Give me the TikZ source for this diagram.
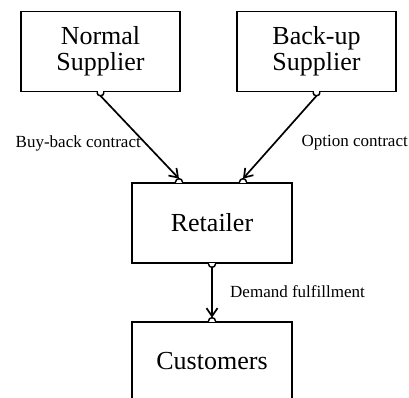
\documentclass[tikz,border=0pt]{standalone}
\usepackage{fontspec}
\setmainfont{Liberation Serif}
\usetikzlibrary{arrows.meta}

\tikzset{
    party/.style={draw, line width=1.7pt, minimum width=159pt, minimum height=80pt,
        align=center, inner sep=0pt, font=\fontsize{26}{26}\selectfont},
    flow/.style={line width=1.7pt, -{Straight Barb[length=8pt,width=11pt,line width=1.7pt]}},
    tag/.style={font=\fontsize{17}{20}\selectfont, inner sep=0pt}
}
% small connection bumps on the box edges
\def\portdown#1{%
    \draw [white, line width=2.4pt] ([xshift=-2.6pt]#1) -- ([xshift=2.6pt]#1);
    \draw [line width=1.5pt] ([xshift=-3.5pt]#1) arc [start angle=180, end angle=360, radius=3.5pt];
}
\def\portup#1{%
    \draw [white, line width=2.4pt] ([xshift=-2.6pt]#1) -- ([xshift=2.6pt]#1);
    \draw [line width=1.5pt] ([xshift=-3.5pt]#1) arc [start angle=180, end angle=0, radius=3.5pt];
}

\begin{document}
\begin{tikzpicture}[x=1pt, y=1pt]
\useasboundingbox (0,0) rectangle (409,397);
\node [party] (normal) at (100.5,345.5) {Normal\\Supplier};
\node [party] (backup) at (316.5,345.5) {Back-up\\Supplier};
\node [party, minimum width=160pt] (retailer) at (212,174) {Retailer};
\node [party, minimum width=160pt, minimum height=78pt] (customers) at (212,36) {Customers};
% ports
\coordinate (inA) at ([xshift=-33pt]retailer.north);
\coordinate (inB) at ([xshift=31pt]retailer.north);
\portdown{normal.south}
\portdown{backup.south}
\portdown{retailer.south}
\portup{inA}
\portup{inB}
\portup{customers.north}
% flows
\draw [flow] ([yshift=-3.5pt]normal.south) -- ([yshift=3.5pt]inA);
\draw [flow] ([yshift=-3.5pt]backup.south) -- ([yshift=3.5pt]inB);
\draw [flow] ([yshift=-3.5pt]retailer.south) -- ([yshift=3.5pt]customers.north);
\node [tag, anchor=east] (buyback) at (141,254) {Buy-back contract};
\node [tag, anchor=east] (option) at (408,254) {Option contract};
\node [tag, anchor=west] (demand) at (230,105) {Demand fulfillment};
\end{tikzpicture}
\end{document}
